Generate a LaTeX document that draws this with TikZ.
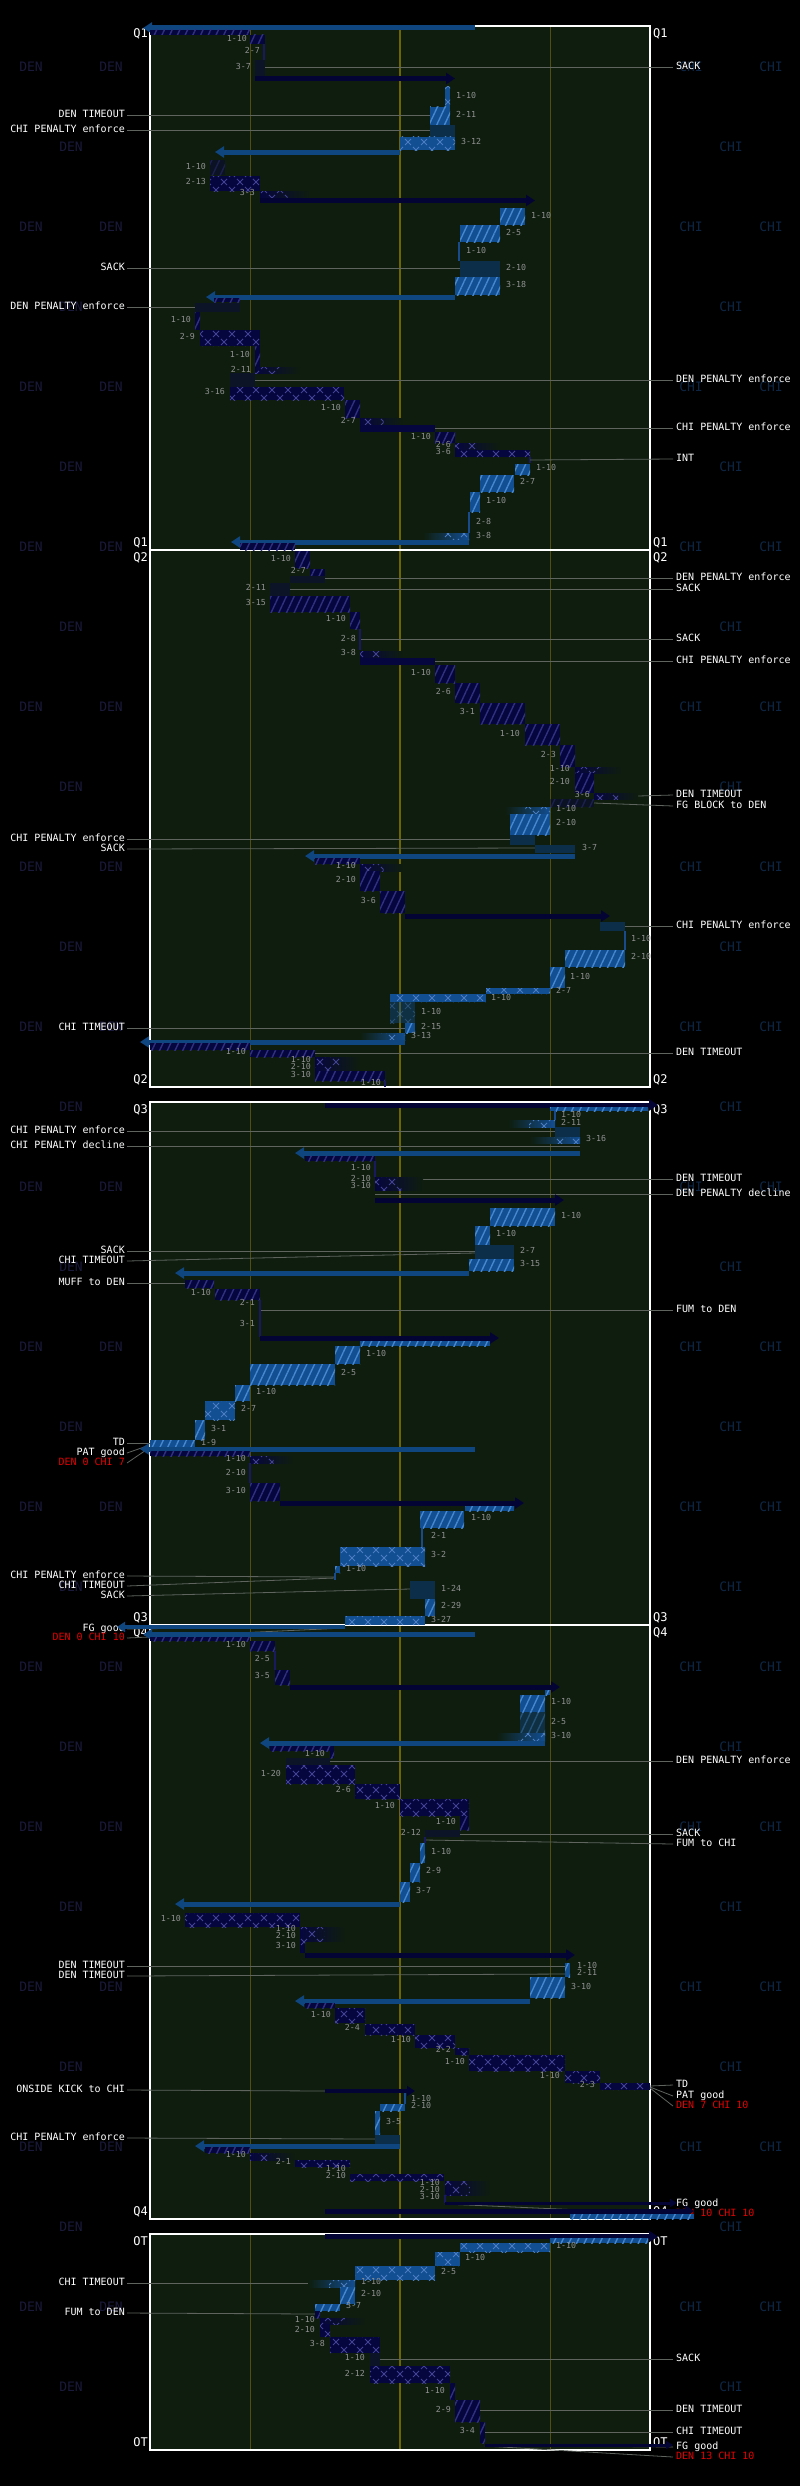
\documentclass[tikz,border=0pt]{standalone}
\usepackage{fontspec}
\newfontfamily\mono{DejaVu Sans Mono}
\usetikzlibrary{arrows.meta,patterns.meta,calc}
\definecolor{panelc}{RGB}{14,29,14}
\definecolor{yelc}{RGB}{110,100,0}
\definecolor{thinc}{RGB}{80,80,12}
\definecolor{denc}{RGB}{6,6,62}
\definecolor{denhat}{RGB}{48,48,128}
\definecolor{denx}{RGB}{66,66,150}
\definecolor{densol}{RGB}{12,20,40}
\definecolor{denarr}{RGB}{4,4,52}
\definecolor{chic}{RGB}{18,78,146}
\definecolor{chihat}{RGB}{70,135,205}
\definecolor{chix}{RGB}{75,125,195}
\definecolor{chisol}{RGB}{12,46,72}
\definecolor{chiarr}{RGB}{16,70,128}
\definecolor{ddc}{RGB}{145,145,145}
\definecolor{leadc}{RGB}{95,100,95}
\definecolor{denwm}{RGB}{26,26,60}
\definecolor{chiwm}{RGB}{14,38,68}
\definecolor{scorered}{RGB}{230,0,0}
\definecolor{denline}{RGB}{25,25,95}
\definecolor{chiline}{RGB}{25,75,140}
\pgfdeclarepattern{name=xmk,type=uncolored,bottom left={\pgfpoint{-0.5pt}{-0.5pt}},top right={\pgfpoint{16.5pt}{16.5pt}},tile size={\pgfpoint{16pt}{16pt}},code={\pgfsetlinewidth{0.9pt}%
\pgfpathmoveto{\pgfpoint{5pt}{5pt}}\pgfpathlineto{\pgfpoint{11pt}{11pt}}%
\pgfpathmoveto{\pgfpoint{5pt}{11pt}}\pgfpathlineto{\pgfpoint{11pt}{5pt}}%
\pgfpathmoveto{\pgfpoint{0pt}{0pt}}\pgfpathlineto{\pgfpoint{3pt}{3pt}}%
\pgfpathmoveto{\pgfpoint{13pt}{3pt}}\pgfpathlineto{\pgfpoint{16pt}{0pt}}%
\pgfpathmoveto{\pgfpoint{0pt}{16pt}}\pgfpathlineto{\pgfpoint{3pt}{13pt}}%
\pgfpathmoveto{\pgfpoint{13pt}{13pt}}\pgfpathlineto{\pgfpoint{16pt}{16pt}}%
\pgfusepath{stroke}}}
\tikzset{
 dd/.style={font=\mono\fontsize{8.3}{9}\selectfont,text=ddc,inner sep=0pt},
 lbl/.style={font=\mono\fontsize{10}{12}\selectfont,text=white,inner sep=0pt},
 qlbl/.style={font=\mono\fontsize{12}{14}\selectfont,text=white,inner sep=0pt},
 wm/.style={font=\mono\fontsize{13}{15}\selectfont,inner sep=0pt},
 leader/.style={draw=leadc,line width=0.8pt},
 darr/.style={draw=denarr,line width=5pt,-{Triangle[length=9pt,width=11pt]}},
 carr/.style={draw=chiarr,line width=5pt,-{Triangle[length=9pt,width=11pt]}},
 dpass/.style={preaction={fill=denc},pattern={Lines[angle=65,distance=7pt,line width=1.4pt]},pattern color=denhat},
 cpass/.style={preaction={fill=chic},pattern={Lines[angle=65,distance=7pt,line width=1.4pt]},pattern color=chihat},
 drun/.style={preaction={fill=denc},pattern=xmk,pattern color=denx},
 crun/.style={preaction={fill=chic},pattern=xmk,pattern color=chix},
 fieldbox/.style={draw=white,line width=1.5pt},
}
\newcounter{nc}
\newcommand\DPass[4]{\path[dpass] (#1,#2) rectangle (#3,#4);}
\newcommand\DPassDim[4]{\begin{scope}[opacity=0.45]\path[dpass] (#1,#2) rectangle (#3,#4);\end{scope}}
\newcommand\DRun[4]{\path[drun] (#1,#2) rectangle (#3,#4);}
\newcommand\DSol[4]{\fill[densol] (#1,#2) rectangle (#3,#4);}
\newcommand\DSolB[4]{\fill[denc] (#1,#2) rectangle (#3,#4);}
\newcommand\DFade[4]{\shade[left color=denc,right color=panelc] (#1,#2) rectangle (#3,#4);\pgfmathsetmacro\xm{#1+0.55*(#3-#1)}\path[pattern=xmk,pattern color=denx] (#1,#2) rectangle (\xm,#4);}
\newcommand\DLine[3]{\draw[denline,line width=1.3pt] (#1,#2) -- (#1,#3);}
\newcommand\DArr[3]{\draw[darr] (#2,#1) -- (#3,#1);}
\newcommand\CPass[4]{\path[cpass] (#1,#2) rectangle (#3,#4);}
\newcommand\CPassDim[4]{\begin{scope}[opacity=0.4]\path[cpass] (#1,#2) rectangle (#3,#4);\end{scope}}
\newcommand\CRun[4]{\path[crun] (#1,#2) rectangle (#3,#4);}
\newcommand\CRunDim[4]{\begin{scope}[opacity=0.4]\path[crun] (#1,#2) rectangle (#3,#4);\end{scope}}
\newcommand\CSol[4]{\fill[chisol] (#1,#2) rectangle (#3,#4);}
\newcommand\CFade[4]{\shade[left color=panelc,right color=chic] (#1,#2) rectangle (#3,#4);\pgfmathsetmacro\xm{#3-0.55*(#3-#1)}\path[pattern=xmk,pattern color=chix] (\xm,#2) rectangle (#3,#4);}
\newcommand\CLine[3]{\draw[chiline,line width=1.3pt] (#1,#2) -- (#1,#3);}
\newcommand\CArr[3]{\draw[carr] (#2,#1) -- (#3,#1);}
\newcommand\ddE[3]{\stepcounter{nc}\node[dd,anchor=mid east] (n\thenc) at (#1,#2) {#3};}
\newcommand\ddW[3]{\stepcounter{nc}\node[dd,anchor=mid west] (n\thenc) at (#1,#2) {#3};}
\newcommand\LeftLbl[4]{\stepcounter{nc}\node[lbl,anchor=mid east] (n\thenc) at (125,#1) {#2};\draw[leader] ([xshift=2pt]n\thenc.mid east) -- (#3,#4);}
\newcommand\RightLbl[4]{\stepcounter{nc}\node[lbl,anchor=mid west] (n\thenc) at (676,#1) {#2};\draw[leader] (#3,#4) -- ([xshift=-3pt]n\thenc.mid west);}
\newcommand\LeftRed[4]{\stepcounter{nc}\node[lbl,text=scorered,anchor=mid east] (n\thenc) at (125,#1) {#2};\draw[leader] ([xshift=2pt]n\thenc.mid east) -- (#3,#4);}
\newcommand\RightRed[4]{\stepcounter{nc}\node[lbl,text=scorered,anchor=mid west] (n\thenc) at (676,#1) {#2};\draw[leader] (#3,#4) -- ([xshift=-3pt]n\thenc.mid west);}
\newcommand\Panel[3]{%
 \fill[panelc] (150,#1) rectangle (650,#2);
 \draw[thinc,line width=1pt] (250,#1) -- (250,#2);
 \draw[thinc,line width=1pt] (550,#1) -- (550,#2);
 \draw[yelc,line width=2pt] (400,#1) -- (400,#2);
 \draw[fieldbox] (150,#1) rectangle (650,#2);
 \pgfmathsetmacro\ta{#1+11.4}\pgfmathsetmacro\tb{#2-3.6}
 \node[qlbl,anchor=base east] (#3tl) at (148,\ta) {#3};
 \node[qlbl,anchor=base west] (#3tr) at (653,\ta) {#3};
 \node[qlbl,anchor=base east] (#3bl) at (148,\tb) {#3};
 \node[qlbl,anchor=base west] (#3br) at (653,\tb) {#3};}
\begin{document}
\begin{tikzpicture}[x=1pt,y=-1pt]
\useasboundingbox (0,0) rectangle (800,2486);
\fill[black] (0,0) rectangle (800,2486);
% watermarks
\foreach \k in {0,...,29}{
 \pgfmathsetmacro\yy{66.7+80*\k}
 \ifodd\k
  \node[wm,text=denwm] (wa\k) at (71,\yy) {DEN};
  \node[wm,text=chiwm] (wc\k) at (731,\yy) {CHI};
 \else
  \node[wm,text=denwm] (wa\k) at (31,\yy) {DEN};
  \node[wm,text=denwm] (wb\k) at (111,\yy) {DEN};
  \node[wm,text=chiwm] (wc\k) at (691,\yy) {CHI};
  \node[wm,text=chiwm] (wd\k) at (771,\yy) {CHI};
 \fi}
% panels
\Panel{26}{550}{Q1}
\Panel{550}{1087}{Q2}
\Panel{1102}{1625}{Q3}
\Panel{1625}{2219}{Q4}
\Panel{2234}{2450}{OT}
% ================= Q1
\CArr{28}{475}{143}
\DPass{150}{30}{250}{35}
\DPass{250}{35}{265}{44} \ddE{247}{39}{1-10}
\DLine{264}{44}{60} \ddE{260}{51}{2-7}
\DSol{255}{60}{265}{76} \ddE{251}{67}{3-7}
\RightLbl{67}{SACK}{265}{67}
\DArr{78.5}{255}{455}
\CRun{445}{87}{450}{107} \ddW{456}{96}{1-10}
\LeftLbl{115.7}{DEN TIMEOUT}{430}{115.7}
\CPass{430}{107}{450}{125} \ddW{456}{115}{2-11}
\LeftLbl{130.7}{CHI PENALTY enforce}{430}{130.7}
\CSol{430}{125}{455}{137}
\CRun{400}{137}{455}{150} \ddW{461}{142}{3-12}
\CArr{152}{400}{215}
\DPassDim{210}{160}{225}{175} \ddE{206}{167}{1-10}
\DRun{210}{176}{260}{191} \ddE{206}{182}{2-13}
\DFade{260}{191}{310}{198} \ddE{255}{193}{3-3}
\DArr{200.5}{260}{535}
\CPass{500}{208}{525}{225} \ddW{531}{216}{1-10}
\CPass{460}{225}{500}{242} \ddW{506}{233}{2-5}
\CLine{459}{242}{261} \ddW{466}{251}{1-10}
\LeftLbl{268}{SACK}{460}{268}
\CSol{460}{261}{500}{277} \ddW{506}{268}{2-10}
\CPass{455}{277}{500}{295} \ddW{506}{285}{3-18}
\CArr{297}{455}{206}
\DPass{214}{298}{240}{302}
\LeftLbl{307}{DEN PENALTY enforce}{195}{307}
\DSol{195}{303}{240}{312}
\DPass{195}{312}{200}{330} \ddE{191}{320}{1-10}
\DRun{200}{330}{260}{346} \ddE{195}{337}{2-9}
\DPass{255}{346}{260}{367} \ddE{250}{355}{1-10}
\DFade{255}{367}{300}{373} \ddE{251}{370}{2-11}
\RightLbl{380}{DEN PENALTY enforce}{255}{380}
\DSol{230}{373}{255}{387}
\DRun{230}{387}{344}{400} \ddE{225}{392}{3-16}
\DPass{345}{400}{360}{418} \ddE{341}{408}{1-10}
\DFade{360}{418}{403}{425} \ddE{356}{421}{2-7}
\RightLbl{428}{CHI PENALTY enforce}{435}{428}
\DSolB{360}{425}{435}{432}
\DPass{435}{432}{455}{443} \ddE{431}{437}{1-10}
\DFade{455}{443}{500}{449} \ddE{451}{445}{2-6}
\DRun{455}{450}{530}{457} \ddE{451}{452}{3-6}
\DLine{530}{457}{463}
\RightLbl{459}{INT}{530}{460}
\CPass{515}{464}{530}{475} \ddW{536}{468}{1-10}
\CPass{480}{475}{514}{492} \ddW{520}{482}{2-7}
\CPass{470}{492}{480}{512} \ddW{486}{501}{1-10}
\CLine{469}{512}{533} \ddW{476}{522}{2-8}
\CFade{423}{533}{469}{540} \ddW{476}{536}{3-8}
\CArr{542}{469}{231}
\DPass{240}{543}{295}{550}
% ================= Q2
\DPass{295}{551}{310}{568} \ddE{291}{559}{1-10}
\DPass{310}{569}{325}{576} \ddE{306}{571}{2-7}
\RightLbl{578}{DEN PENALTY enforce}{325}{578}
\DSol{290}{576}{325}{583}
\RightLbl{589}{SACK}{290}{589}
\DSol{270}{583}{290}{596} \ddE{266}{588}{2-11}
\DPass{270}{596}{350}{612} \ddE{266}{603}{3-15}
\DPass{350}{612}{360}{629} \ddE{346}{619}{1-10}
\RightLbl{639}{SACK}{360}{639}
\DLine{360}{629}{650} \ddE{356}{639}{2-8}
\DFade{360}{651}{403}{658} \ddE{356}{653}{3-8}
\RightLbl{661}{CHI PENALTY enforce}{435}{661}
\DSolB{360}{658}{435}{665}
\DPass{435}{665}{455}{683} \ddE{431}{673}{1-10}
\DPass{455}{683}{480}{703} \ddE{451}{692}{2-6}
\DPass{480}{703}{525}{724} \ddE{475}{712}{3-1}
\DPass{525}{724}{560}{745} \ddE{520}{734}{1-10}
\DPass{560}{745}{575}{767} \ddE{556}{755}{2-3}
\DFade{575}{767}{622}{773} \ddE{570}{769}{1-10}
\DPass{575}{773}{594}{793} \ddE{570}{782}{2-10}
\RightLbl{795}{DEN TIMEOUT}{638}{796}
\DFade{594}{793}{638}{799} \ddE{590}{795}{3-6}
\RightLbl{806}{FG BLOCK to DEN}{594}{803}
\DPassDim{550}{799}{594}{807}
\CFade{505}{807}{550}{814} \ddW{556}{809}{1-10}
\CPass{510}{814}{550}{835} \ddW{556}{823}{2-10}
\LeftLbl{839}{CHI PENALTY enforce}{510}{839}
\CSol{510}{835}{535}{845}
\LeftLbl{849}{SACK}{535}{848}
\CSol{535}{845}{575}{853} \ddW{582}{848}{3-7}
\CArr{856}{575}{305}
\DPass{315}{858}{360}{864}
\DFade{360}{864}{403}{871} \ddE{356}{866}{1-10}
\DPass{360}{871}{380}{891} \ddE{356}{880}{2-10}
\DPass{380}{891}{405}{913} \ddE{376}{901}{3-6}
\DArr{916}{405}{610}
\RightLbl{926}{CHI PENALTY enforce}{625}{926}
\CSol{600}{922}{625}{931}
\CLine{625}{931}{950} \ddW{631}{939}{1-10}
\CPass{565}{950}{625}{967} \ddW{631}{957}{2-10}
\CPass{550}{967}{565}{988} \ddW{570}{977}{1-10}
\CRun{486}{988}{550}{994} \ddW{556}{991}{2-7}
\CRun{390}{994}{486}{1002} \ddW{491}{998}{1-10}
\CRunDim{390}{1002}{415}{1023} \ddW{421}{1012}{1-10}
\LeftLbl{1028}{CHI TIMEOUT}{405}{1028}
\CPass{405}{1023}{415}{1033} \ddW{421}{1027}{2-15}
\CFade{360}{1033}{405}{1040} \ddW{411}{1036}{3-13}
\CArr{1042}{405}{140}
\DPass{150}{1043}{250}{1050}
\RightLbl{1053}{DEN TIMEOUT}{315}{1053}
\DPass{250}{1050}{315}{1057} \ddE{246}{1052}{1-10}
\DFade{315}{1057}{360}{1063} \ddE{311}{1060}{1-10}
\DFade{315}{1063}{360}{1071} \ddE{311}{1067}{2-10}
\DPass{315}{1071}{385}{1081} \ddE{311}{1075}{3-10}
\DLine{385}{1081}{1087} \ddE{381}{1083}{1-10}
% ================= Q3
\DArr{1105}{325}{658}
\CPass{550}{1107}{648}{1111}
\CLine{555}{1111}{1120} \ddW{561}{1115}{1-10}
\CFade{508}{1120}{555}{1127} \ddW{561}{1123}{2-11}
\LeftLbl{1131}{CHI PENALTY enforce}{555}{1131}
\CSol{555}{1127}{580}{1137}
\CFade{530}{1137}{580}{1143} \ddW{586}{1139}{3-16}
\LeftLbl{1146}{CHI PENALTY decline}{580}{1146}
\CArr{1153}{580}{295}
\DPass{305}{1156}{375}{1161}
\DLine{375}{1161}{1177} \ddE{371}{1168}{1-10}
\RightLbl{1179}{DEN TIMEOUT}{423}{1179}
\DFade{375}{1177}{423}{1183} \ddE{371}{1179}{2-10}
\DFade{375}{1183}{423}{1190} \ddE{371}{1186}{3-10}
\RightLbl{1194}{DEN PENALTY decline}{375}{1194}
\DArr{1200}{375}{564}
\CPass{490}{1208}{555}{1226} \ddW{561}{1216}{1-10}
\CPass{475}{1226}{490}{1245} \ddW{496}{1234}{1-10}
\LeftLbl{1251}{SACK}{514}{1251}
\LeftLbl{1261}{CHI TIMEOUT}{475}{1253}
\CSol{475}{1245}{514}{1259} \ddW{520}{1251}{2-7}
\CPass{469}{1259}{514}{1271} \ddW{520}{1264}{3-15}
\CArr{1273}{469}{175}
\LeftLbl{1283}{MUFF to DEN}{185}{1283}
\DPass{185}{1280}{214}{1288}
\DPass{215}{1289}{260}{1300} \ddE{211}{1293}{1-10}
\RightLbl{1310}{FUM to DEN}{260}{1310}
\DLine{260}{1300}{1337} \ddE{255}{1303}{2-1}
\ddE{255}{1324}{3-1}
\DArr{1338}{260}{499}
\CPass{360}{1341}{490}{1346}
\CPass{335}{1346}{360}{1364} \ddW{366}{1354}{1-10}
\CPass{250}{1364}{335}{1385} \ddW{341}{1373}{2-5}
\CPass{235}{1385}{250}{1401} \ddW{256}{1392}{1-10}
\CRun{205}{1401}{235}{1420} \ddW{241}{1409}{2-7}
\CPass{195}{1420}{205}{1440} \ddW{211}{1429}{3-1}
\LeftLbl{1443}{TD}{150}{1443}
\LeftLbl{1453}{PAT good}{147}{1446}
\LeftRed{1463}{DEN 0 CHI 7}{149}{1448}
\CPass{150}{1440}{195}{1447} \ddW{201}{1443}{1-9}
\CArr{1449}{475}{140}
\DPass{150}{1451}{250}{1456}
\DFade{250}{1456}{293}{1463} \ddE{246}{1459}{1-10}
\DLine{250}{1463}{1483} \ddE{246}{1473}{2-10}
\DPass{250}{1483}{280}{1501} \ddE{246}{1491}{3-10}
\DArr{1503}{280}{524}
\CPass{465}{1506}{514}{1511}
\CPass{420}{1511}{464}{1528} \ddW{471}{1518}{1-10}
\CLine{422}{1528}{1547} \ddW{431}{1536}{2-1}
\CRun{340}{1547}{425}{1566} \ddW{431}{1555}{3-2}
\CPass{335}{1566}{340}{1573} \ddW{346}{1569}{1-10}
\LeftLbl{1576}{CHI PENALTY enforce}{335}{1577}
\LeftLbl{1586}{CHI TIMEOUT}{335}{1578}
\CLine{335}{1573}{1580}
\LeftLbl{1596}{SACK}{410}{1589}
\CSol{410}{1581}{435}{1599} \ddW{441}{1589}{1-24}
\CPass{425}{1599}{435}{1616} \ddW{441}{1606}{2-29}
\CRun{345}{1616}{425}{1625} \ddW{431}{1620}{3-27}
\LeftLbl{1629}{FG good}{345}{1626}
\LeftRed{1638}{DEN 0 CHI 10}{345}{1628}
\draw[chiarr,line width=3.5pt,-{Triangle[length=8pt,width=10pt]}] (345,1627) -- (117,1627);
% ================= Q4
\CArr{1634.5}{475}{143}
\DPass{150}{1637}{250}{1641}
\DPass{250}{1641}{275}{1651} \ddE{246}{1645}{1-10}
\DLine{275}{1651}{1670} \ddE{270}{1659}{2-5}
\DPass{275}{1670}{290}{1685} \ddE{270}{1676}{3-5}
\DArr{1687}{290}{560}
\CPass{545}{1690}{550}{1695}
\CPass{520}{1695}{545}{1712} \ddW{551}{1702}{1-10}
\CPassDim{520}{1712}{545}{1733} \ddW{551}{1722}{2-5}
\CFade{497}{1733}{545}{1741} \ddW{551}{1736}{3-10}
\CArr{1743}{545}{260}
\DPass{270}{1746}{334}{1751}
\DPass{330}{1751}{334}{1758} \ddE{325}{1754}{1-10}
\RightLbl{1761}{DEN PENALTY enforce}{330}{1761}
\DSol{286}{1758}{330}{1765}
\DRun{286}{1765}{355}{1784} \ddE{281}{1774}{1-20}
\DRun{355}{1784}{400}{1799} \ddE{351}{1790}{2-6}
\DRun{400}{1799}{469}{1816} \ddE{395}{1806}{1-10}
\DPass{460}{1816}{469}{1830} \ddE{456}{1822}{1-10}
\RightLbl{1834}{SACK}{460}{1834}
\DSol{425}{1830}{460}{1837} \ddE{421}{1833}{2-12}
\RightLbl{1844}{FUM to CHI}{425}{1840}
\DLine{425}{1837}{1843}
\CPass{420}{1843}{425}{1863} \ddW{431}{1852}{1-10}
\CPass{410}{1863}{420}{1882} \ddW{426}{1871}{2-9}
\CPass{400}{1882}{410}{1902} \ddW{416}{1891}{3-7}
\CArr{1904}{400}{175}
\DRun{185}{1913}{300}{1927} \ddE{181}{1919}{1-10}
\DFade{300}{1927}{345}{1933} \ddE{296}{1929}{1-10}
\DFade{300}{1933}{345}{1941} \ddE{296}{1936}{2-10}
\DRun{300}{1941}{305}{1953} \ddE{296}{1946}{3-10}
\DArr{1955}{305}{575}
\LeftLbl{1966}{DEN TIMEOUT}{565}{1966}
\LeftLbl{1976}{DEN TIMEOUT}{565}{1974}
\CPass{565}{1963}{570}{1970} \ddW{577}{1966}{1-10}
\CPass{565}{1970}{570}{1977} \ddW{577}{1973}{2-11}
\CPass{530}{1977}{565}{1998} \ddW{571}{1987}{3-10}
\CArr{2001}{530}{295}
\DPass{305}{2003}{335}{2008}
\DRun{335}{2008}{365}{2023} \ddE{331}{2015}{1-10}
\DRun{365}{2024}{415}{2035} \ddE{360}{2028}{2-4}
\DRun{415}{2035}{455}{2048} \ddE{411}{2040}{1-10}
\DRun{455}{2048}{469}{2055} \ddE{451}{2050}{2-2}
\DRun{469}{2055}{565}{2071} \ddE{465}{2062}{1-10}
\DRun{565}{2071}{600}{2083} \ddE{560}{2076}{1-10}
\DRun{600}{2083}{650}{2090} \ddE{595}{2085}{2-3}
\RightLbl{2085}{TD}{650}{2086}
\RightLbl{2096}{PAT good}{650}{2087}
\RightRed{2106}{DEN 7 CHI 10}{650}{2088}
\LeftLbl{2090}{ONSIDE KICK to CHI}{325}{2091}
\draw[denarr,line width=4pt,-{Triangle[length=8pt,width=10pt]}] (325,2091) -- (415,2091);
\CLine{405}{2093}{2104} \ddW{411}{2099}{1-10}
\CPass{380}{2104}{405}{2111} \ddW{411}{2106}{2-10}
\CPass{375}{2111}{380}{2135} \ddW{386}{2122}{3-5}
\LeftLbl{2138}{CHI PENALTY enforce}{375}{2139}
\CSol{375}{2135}{400}{2144}
\CArr{2146}{400}{195}
\DPass{205}{2147}{250}{2153}
\DFade{250}{2153}{295}{2160} \ddE{246}{2155}{1-10}
\DRun{295}{2160}{350}{2167} \ddE{291}{2162}{2-1}
\ddE{346}{2169}{1-10}
\DRun{350}{2174}{444}{2181} \ddE{346}{2176}{2-10}
\DFade{445}{2181}{490}{2188} \ddE{440}{2183}{1-10}
\DFade{445}{2188}{490}{2195} \ddE{440}{2190}{2-10}
\DLine{445}{2195}{2203} \ddE{440}{2197}{3-10}
\RightLbl{2204}{FG good}{445}{2203}
\RightRed{2214}{DEN 10 CHI 10}{445}{2204}
\draw[denarr,line width=3pt,-{Triangle[length=7pt,width=8pt]}] (445,2203) -- (677,2203);
\DArr{2211}{325}{694}
\CPass{570}{2214}{694}{2219}
% ================= OT
\DArr{2236.5}{325}{658}
\CPass{550}{2238}{648}{2243}
\CRun{460}{2243}{550}{2252} \ddW{556}{2246}{1-10}
\CRun{435}{2252}{460}{2266} \ddW{465}{2258}{1-10}
\CRun{355}{2266}{435}{2280} \ddW{441}{2272}{2-5}
\LeftLbl{2283}{CHI TIMEOUT}{340}{2283}
\CFade{308}{2280}{355}{2287} \ddW{361}{2282}{1-10}
\CPass{340}{2287}{355}{2304} \ddW{361}{2294}{2-10}
\CPass{315}{2304}{340}{2311} \ddW{346}{2306}{3-7}
\LeftLbl{2313}{FUM to DEN}{315}{2314}
\DPass{315}{2311}{320}{2318}
\DFade{320}{2318}{365}{2324} \ddE{315}{2320}{1-10}
\DRun{320}{2324}{330}{2337} \ddE{315}{2330}{2-10}
\DRun{330}{2337}{380}{2353} \ddE{325}{2344}{3-8}
\RightLbl{2359}{SACK}{380}{2359}
\DSol{370}{2353}{380}{2366} \ddE{365}{2358}{1-10}
\DRun{370}{2366}{450}{2383} \ddE{365}{2374}{2-12}
\DPass{450}{2383}{455}{2400} \ddE{445}{2391}{1-10}
\RightLbl{2410}{DEN TIMEOUT}{480}{2410}
\DPass{455}{2400}{480}{2422} \ddE{451}{2410}{2-9}
\RightLbl{2432}{CHI TIMEOUT}{485}{2432}
\DPass{480}{2422}{485}{2443} \ddE{475}{2431}{3-4}
\RightLbl{2447}{FG good}{485}{2445}
\RightRed{2457}{DEN 13 CHI 10}{485}{2446}
\draw[denarr,line width=3pt,-{Triangle[length=7pt,width=8pt]}] (485,2445) -- (673,2445);
\end{tikzpicture}
\end{document}
